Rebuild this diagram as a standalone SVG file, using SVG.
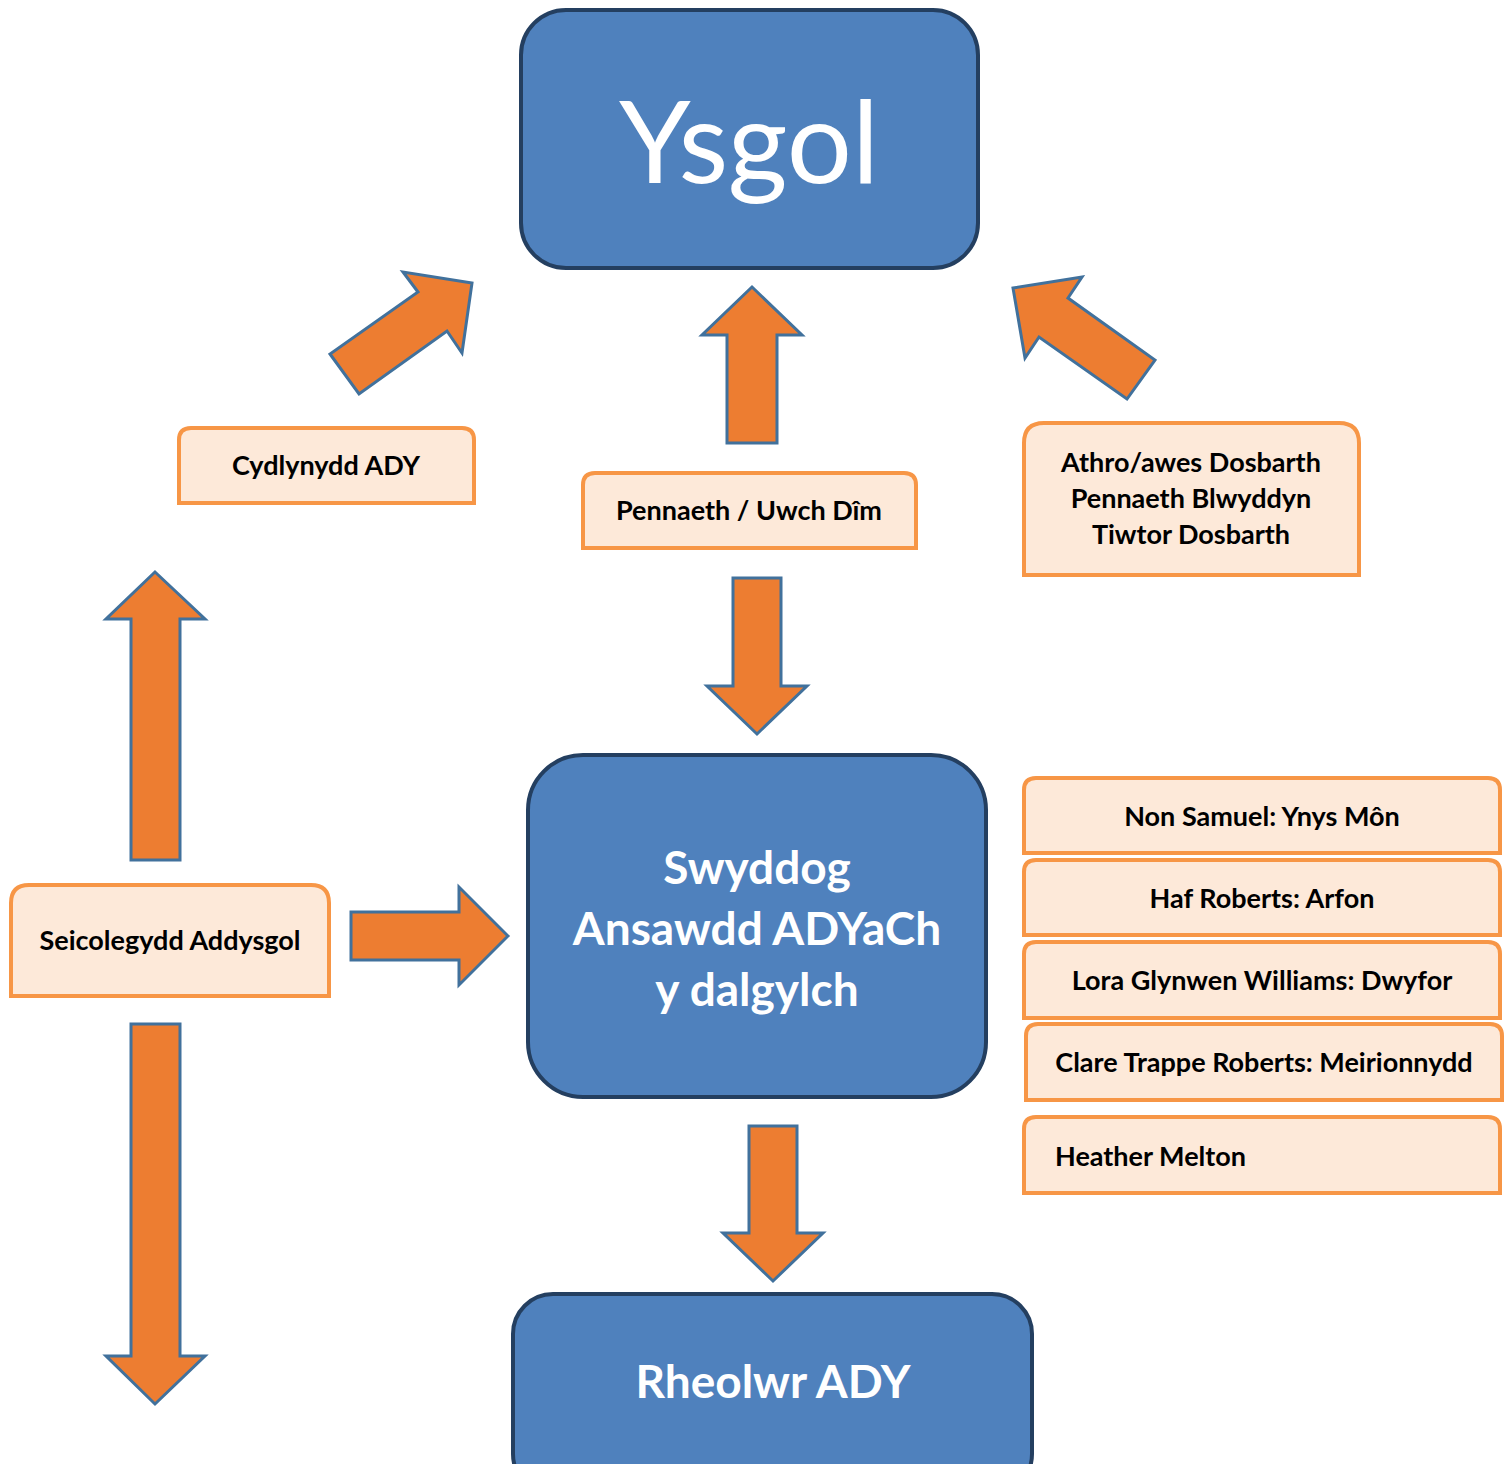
<svg xmlns="http://www.w3.org/2000/svg" width="1509" height="1464" viewBox="0 0 1509 1464">
<style>
.blue{fill:#4F81BD;stroke:#243F60;stroke-width:4}
.box{fill:#FDE9D9;stroke:#F79646;stroke-width:4}
.arr{fill:#ED7D31;stroke:#41719C;stroke-width:3;stroke-linejoin:miter}
.t{font-family:Lato,"Liberation Sans",sans-serif;font-weight:bold;fill:#000;font-size:27px}
.w{font-family:Lato,"Liberation Sans",sans-serif;fill:#fff}
</style>
<rect width="1509" height="1464" fill="#fff"/>
<g id="connectors">
<polygon class="arr" points="330,354 359,394 447,331 462,353 472,283 403,272 418,292"/>
<polygon class="arr" points="752,287 802,335 777,335 777,443 727,443 727,335 702,335"/>
<polygon class="arr" points="1013,288 1082,277 1068,298 1155,360 1127,399 1039,337 1025,358"/>
<polygon class="arr" points="733,578 781,578 781,686 807,686 757,734 707,686 733,686"/>
<polygon class="arr" points="749,1126 797,1126 797,1233 823,1233 773,1281 723,1233 749,1233"/>
<polygon class="arr" points="155,572 205,619 180,619 180,860 131,860 131,619 106,619"/>
<polygon class="arr" points="131,1024 180,1024 180,1356 205,1356 155,1404 106,1356 131,1356"/>
<polygon class="arr" points="351,912 459,912 459,887 508,936 459,985 459,960 351,960"/>
</g>
<g id="ysgol">
<rect class="blue" x="521" y="10" width="457" height="258" rx="45"/>
<text class="w" x="749" y="183" text-anchor="middle" font-size="115">Ysgol</text>
</g>
<g id="swyddog">
<rect class="blue" x="528" y="755" width="458" height="342" rx="55"/>
<text class="w" x="757" y="884" text-anchor="middle" font-size="46" font-weight="bold">Swyddog</text>
<text class="w" x="757" y="945" text-anchor="middle" font-size="46" font-weight="bold">Ansawdd ADYaCh</text>
<text class="w" x="757" y="1006" text-anchor="middle" font-size="46" font-weight="bold">y dalgylch</text>
</g>
<g id="rheolwr">
<rect class="blue" x="513" y="1294" width="519" height="200" rx="40"/>
<text class="w" x="773" y="1398" text-anchor="middle" font-size="46" font-weight="bold">Rheolwr ADY</text>
</g>
<g id="cydlynydd">
<path class="box" d="M179,503 V440 Q179,428 191,428 H462 Q474,428 474,440 V503 Z"/>
<text class="t" x="326" y="475" text-anchor="middle">Cydlynydd ADY</text>
</g>
<g id="pennaeth">
<path class="box" d="M583,548 V485 Q583,473 595,473 H904 Q916,473 916,485 V548 Z"/>
<text class="t" x="749" y="520" text-anchor="middle">Pennaeth / Uwch Dîm</text>
</g>
<g id="athro">
<path class="box" d="M1024,575 V443 Q1024,423 1044,423 H1339 Q1359,423 1359,443 V575 Z"/>
<text class="t" x="1191" y="472" text-anchor="middle">Athro/awes Dosbarth</text>
<text class="t" x="1191" y="508" text-anchor="middle">Pennaeth Blwyddyn</text>
<text class="t" x="1191" y="544" text-anchor="middle">Tiwtor Dosbarth</text>
</g>
<g id="seicolegydd">
<path class="box" d="M11,996 V903 Q11,885 29,885 H311 Q329,885 329,903 V996 Z"/>
<text class="t" x="170" y="950" text-anchor="middle">Seicolegydd Addysgol</text>
</g>
<g id="non">
<path class="box" d="M1024,853 V790 Q1024,778 1036,778 H1488 Q1500,778 1500,790 V853 Z"/>
<text class="t" x="1262" y="826" text-anchor="middle">Non Samuel: Ynys Môn</text>
</g>
<g id="haf">
<path class="box" d="M1024,935 V872 Q1024,860 1036,860 H1488 Q1500,860 1500,872 V935 Z"/>
<text class="t" x="1262" y="908" text-anchor="middle">Haf Roberts: Arfon</text>
</g>
<g id="lora">
<path class="box" d="M1024,1018 V954 Q1024,942 1036,942 H1488 Q1500,942 1500,954 V1018 Z"/>
<text class="t" x="1262" y="990" text-anchor="middle">Lora Glynwen Williams: Dwyfor</text>
</g>
<g id="clare">
<path class="box" d="M1026,1100 V1036 Q1026,1024 1038,1024 H1490 Q1502,1024 1502,1036 V1100 Z"/>
<text class="t" x="1264" y="1072" text-anchor="middle">Clare Trappe Roberts: Meirionnydd</text>
</g>
<g id="heather">
<path class="box" d="M1024,1193 V1129 Q1024,1117 1036,1117 H1488 Q1500,1117 1500,1129 V1193 Z"/>
<text class="t" x="1055" y="1166">Heather Melton</text>
</g>
</svg>
